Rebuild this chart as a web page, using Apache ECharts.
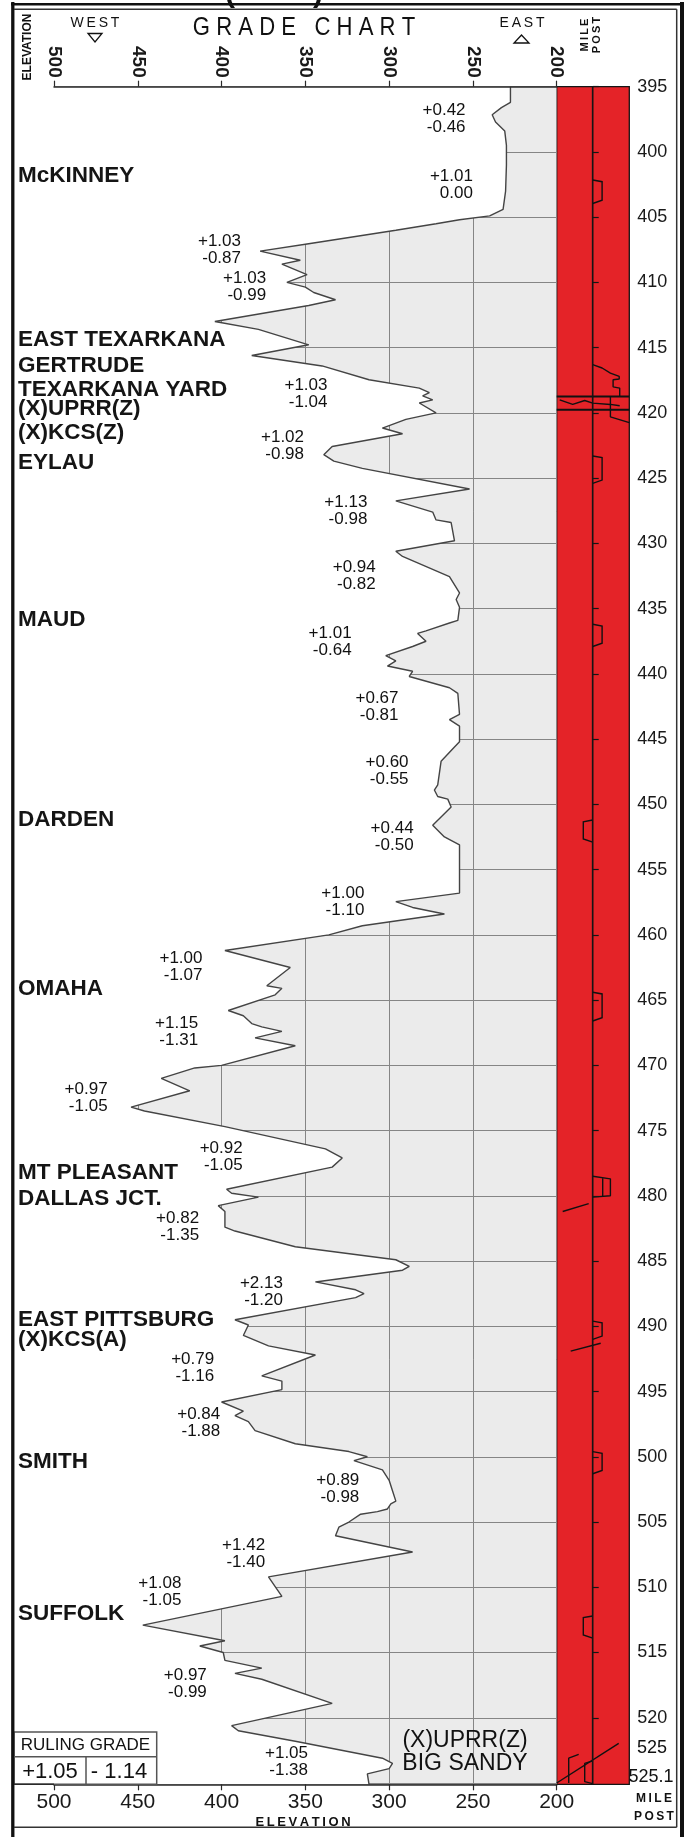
<!DOCTYPE html>
<html><head><meta charset="utf-8">
<script src="https://cdn.jsdelivr.net/npm/echarts@6/dist/echarts.min.js"></script>
<style>html,body{margin:0;padding:0;background:#fff}#c{width:691px;height:1837px}</style>
</head><body><div id="c"></div>
<script>
// ---------------- DATA ----------------
const profileMiles = [395.0,396.2,396.6,397.15,397.7,398.4,399.5,401.0,403.0,404.4,404.9,405.2,405.5,406.0,407.05,407.6,408.3,408.6,409.4,410.0,410.36,410.77,411.33,411.77,412.99,413.6,414.78,415.6,416.4,417.46,418.1,418.45,418.7,419.0,419.24,420.0,420.5,421.16,421.6,422.57,423.2,423.7,424.25,425.83,426.74,427.6,428.2,428.4,429.8,430.6,431.0,432.55,433.8,434.3,434.9,435.9,436.1,436.7,436.9,437.5,437.9,438.6,439.0,439.4,439.8,440.2,441.06,441.5,443.1,443.5,444.0,445.2,445.6,446.7,448.5,448.9,449.4,449.6,450.2,451.6,452.5,453.1,456.8,457.45,457.9,458.4,459.3,460.0,461.2,462.5,463.9,464.1,464.6,465.8,466.2,466.8,467.05,467.4,467.9,468.5,470.0,470.2,471.0,471.95,473.2,473.5,474.7,476.4,477.1,477.8,479.5,479.8,480.1,480.75,481.2,482.4,482.7,483.9,484.9,485.4,485.7,486.6,487.2,487.5,487.8,489.5,489.9,490.7,491.5,492.2,493.8,494.2,494.85,495.8,496.5,496.85,497.3,498.0,499.0,499.6,500.0,500.3,501.0,501.8,502.6,503.4,503.6,504.0,504.2,504.4,505.0,505.4,506.05,507.3,509.2,510.7,512.9,514.1,514.5,515.0,515.6,516.2,516.6,517.05,518.9,520.6,521.0,521.8,523.1,523.5,523.9,524.3,525.1];
const profileElev = [227.6,227.6,233,238.5,236.5,231,230,230,230.5,232,240,258,272,296,349,377,353,364,349,361,350,345,332,348,404,378,348,382,340,312,282,276,280,274,282,272,290,304,292,334,339,333,316,252,296,274,272,263,261,296,292,264,258,260,258,259,264,278,283,278,286,302,296,301,286,288,264,259,258,264,258,258,261,269,271,273,271,265,263,274,267,258,258,296,286,267,316,336,398,359,373,364,368,396,387,382,376,364,380,356,400,416,436,419,454,446,398,338,328,334,397,394,378,402,398,398,392,356,296,288,292,344,320,315,320,392,384,387,372,344,376,364,364,400,387,392,384,380,356,324,313,321,304,300,298,296,299,301,307,317,324,330,332,286,372,364,447,398,413,399,398,376,392,376,334,394,390,356,304,298,300,313,312];

const elevTicks = [500, 450, 400, 350, 300, 250, 200];
const mileTicks = [395,400,405,410,415,420,425,430,435,440,445,450,455,460,465,470,475,480,485,490,495,500,505,510,515,520];
const endMileLabels = ['525', '525.1'];

const stationNames = ['McKINNEY','EAST TEXARKANA','GERTRUDE','TEXARKANA YARD','(X)UPRR(Z)','(X)KCS(Z)','EYLAU','MAUD','DARDEN','OMAHA','MT PLEASANT','DALLAS JCT.','EAST PITTSBURG','(X)KCS(A)','SMITH','SUFFOLK'];
const stationMiles = [401.82,414.42,416.4,418.2,419.68,421.52,423.8,435.83,451.18,464.1,478.2,480.2,489.5,491.0,500.4,512.0];

const gradeUp   = ['+0.42','+1.01','+1.03','+1.03','+1.03','+1.02','+1.13','+0.94','+1.01','+0.67','+0.60','+0.44','+1.00','+1.00','+1.15','+0.97','+0.92','+0.82','+2.13','+0.79','+0.84','+0.89','+1.42','+1.08','+0.97','+1.05'];
const gradeDown = ['-0.46','0.00','-0.87','-0.99','-1.04','-0.98','-0.98','-0.82','-0.64','-0.81','-0.55','-0.50','-1.10','-1.07','-1.31','-1.05','-1.05','-1.35','-1.20','-1.16','-1.88','-0.98','-1.40','-1.05','-0.99','-1.38'];
const gradeMiles = [397.47,402.52,407.5,410.31,418.56,422.5,427.49,432.47,437.53,442.51,447.45,452.47,457.45,462.45,467.43,472.51,477.01,482.41,487.39,493.2,497.41,502.45,507.43,510.34,517.4,523.39];
const gradeElev  = [254.4,250.0,388.4,373.4,336.8,350.8,313.0,308.0,322.4,294.4,288.4,285.4,314.8,411.4,414.0,468.0,387.4,413.4,363.4,404.4,400.8,317.8,374.0,424.0,408.8,348.4];

const rulingGrade = ['+1.05', '- 1.14'];
const endStation = ['(X)UPRR(Z)', 'BIG SANDY'];

// curvature track: curve start/end mile posts and side (+1 right, -1 left)
const curveStart = [402.15, 423.3, 436.2, 451.2, 464.4, 489.6, 499.6, 512.2];
const curveEnd   = [403.95, 425.4, 437.9, 452.9, 466.6, 491.0, 501.3, 513.9];
const curveSide  = [1, 1, 1, -1, 1, 1, 1, -1];
// other track features as [offset, milepost] polylines
const trackCenter = [[0, 395], [0, 525.1]];
const trackStair = [[0,416.3],[9.4,416.56],[17.7,416.95],[17.7,417.1],[26.5,417.2],[26.5,417.4],[20.4,417.46],[20.4,418.0],[27,418.1],[27,418.74]];
const trackJct1 = [[-36,418.74],[36.6,418.74]];
const trackJct2 = [[-36,419.76],[36.6,419.76]];
const trackZig = [[-33,419.0],[-20,419.35],[-8,419.05],[0,419.25],[17.7,419.35],[27,419.45]];
const trackSpur1 = [[17.7,418.74],[17.7,420.3],[36.6,420.75]];
const trackDouble = [[0,478.5],[17.7,478.7],[17.7,480.0],[0,480.1]];
const trackDoubleIn = [[10,478.65],[10,480.05]];
const trackX1 = [[-30,481.2],[-4,480.6]];
const trackX2 = [[-22,491.9],[8,491.3]];
const trackEnd = [[-36,525.0],[26,521.97]];
const trackEndB1 = [[-14,522.8],[-24,523.1],[-24,525.0]];
const trackEndB2 = [[0,523.3],[-8,523.5],[-8,524.9],[0,525.05]];
const trackLines = [trackStair, trackJct1, trackJct2, trackZig, trackSpur1, trackDouble, trackDoubleIn, trackX1, trackX2, trackEnd, trackEndB1, trackEndB2];

// ---------------- CHART ----------------
const FONT = 'Liberation Sans, Arial, sans-serif';
const chart = echarts.init(document.getElementById('c'), null, {renderer: 'canvas'});

const G0 = {left: 54, top: 86.7, right: 134.3, bottom: 52.7};
const G1 = {left: 556.7, top: 86.7, width: 72.6, bottom: 52.7};

const profileData = profileMiles.map((m, i) => [profileElev[i], m]);

const series = [];
// white region west of the profile (covers grid)
series.push({
  type: 'custom', xAxisIndex: 0, yAxisIndex: 0, z: 2, silent: true, clip: false,
  data: [[0, 0]],
  renderItem: function (params, api) {
    const pts = [api.coord([520, profileMiles[0]])];
    profileData.forEach(p => pts.push(api.coord(p)));
    pts.push(api.coord([520, profileMiles[profileMiles.length - 1]]));
    return {type: 'polygon', shape: {points: pts}, style: {fill: '#ffffff'}};
  }
});
// profile line
series.push({
  type: 'line', xAxisIndex: 0, yAxisIndex: 0, z: 4, data: profileData,
  showSymbol: false, symbol: 'none', silent: true, animation: false,
  lineStyle: {color: '#444', width: 1.4}
});
// station names
series.push({
  type: 'custom', xAxisIndex: 0, yAxisIndex: 0, z: 5, silent: true, clip: false,
  data: stationMiles.map((m, i) => [500, m, i]),
  renderItem: function (params, api) {
    const i = api.value(2);
    const p = api.coord([500, api.value(1)]);
    return {type: 'text', x: 18, y: p[1], style: {text: stationNames[i], font: 'bold 22.5px ' + FONT, fill: '#151515', align: 'left', verticalAlign: 'middle'}};
  }
});
// grade annotations
series.push({
  type: 'custom', xAxisIndex: 0, yAxisIndex: 0, z: 5, silent: true, clip: false,
  data: gradeMiles.map((m, i) => [gradeElev[i], m, i]),
  renderItem: function (params, api) {
    const i = api.value(2);
    const p = api.coord([api.value(0), api.value(1)]);
    return {type: 'text', x: p[0], y: p[1], style: {text: gradeUp[i] + '\n' + gradeDown[i], font: '17px ' + FONT, lineHeight: 17, fill: '#111', align: 'right', verticalAlign: 'middle'}};
  }
});
// curvature bumps
series.push({
  type: 'custom', xAxisIndex: 3, yAxisIndex: 1, z: 5, silent: true, clip: false,
  data: curveStart.map((s, i) => [s, curveEnd[i], curveSide[i]]),
  renderItem: function (params, api) {
    const s = api.value(0), e = api.value(1), d = api.value(2);
    const w = 9.4 * d;
    const pts = [api.coord([0, s]), api.coord([w, s + 0.13]), api.coord([w, e - 0.25]), api.coord([0, e])];
    return {type: 'polyline', shape: {points: pts}, style: {stroke: '#111', lineWidth: 1.4, fill: null}};
  }
});
// center line & other track features
[trackCenter].concat(trackLines).forEach((arr, k) => {
  series.push({
    type: 'line', xAxisIndex: 3, yAxisIndex: 1, z: 5, data: arr, showSymbol: false, symbol: 'none',
    silent: true, animation: false,
    lineStyle: {color: '#111', width: (arr === trackJct1 || arr === trackJct2) ? 2 : 1.4}
  });
});

const axisFont = {fontFamily: FONT, color: '#1a1a1a'};

const option = {
  animation: false,
  backgroundColor: '#ffffff',
  grid: [
    Object.assign({show: true, backgroundColor: '#ebebeb', borderWidth: 0}, G0),
    Object.assign({show: true, backgroundColor: '#e42328', borderColor: '#151515', borderWidth: 1.3}, G1)
  ],
  xAxis: [
    {gridIndex: 0, type: 'value', position: 'top', min: 200, max: 500, interval: 50, inverse: true, z: 6,
     axisLine: {show: true, lineStyle: {color: '#2a2a2a', width: 1.5}},
     axisTick: {show: true, length: 6, lineStyle: {color: '#2a2a2a', width: 1.2}},
     axisLabel: Object.assign({rotate: 90, margin: 9, fontSize: 19, fontWeight: 'bold'}, axisFont),
     splitLine: {show: false}},
    {gridIndex: 0, type: 'value', position: 'bottom', min: 200, max: 500, interval: 50, inverse: true, z: 6,
     axisLine: {show: true, lineStyle: {color: '#2a2a2a', width: 1.5}},
     axisTick: {show: true, length: 6, lineStyle: {color: '#2a2a2a', width: 1.2}},
     axisLabel: Object.assign({margin: 7, fontSize: 21}, axisFont),
     splitLine: {show: false}},
    {gridIndex: 0, type: 'value', position: 'bottom', offset: 0, min: 200, max: 500, interval: 50, inverse: true, z: 0,
     axisLine: {show: false}, axisTick: {show: false}, axisLabel: {show: false},
     splitLine: {show: true, lineStyle: {color: '#858585', width: 1}}},
    {gridIndex: 1, type: 'value', min: -36, max: 36.6, show: false}
  ],
  yAxis: [
    {gridIndex: 0, type: 'value', min: 395, max: 525.1, interval: 5, inverse: true, z: 0,
     axisLine: {show: false}, axisTick: {show: false}, axisLabel: {show: false},
     splitLine: {show: true, lineStyle: {color: '#858585', width: 1}}},
    {gridIndex: 1, type: 'value', position: 'right', min: 395, max: 525.1, interval: 5, inverse: true, z: 6,
     axisLine: {show: true, lineStyle: {color: '#151515', width: 1.3}},
     axisTick: {show: true, length: 6, customValues: mileTicks, lineStyle: {color: '#151515', width: 1.2}},
     axisLabel: Object.assign({margin: 8, fontSize: 18, customValues: mileTicks,
       formatter: v => (v > 520 ? '' : String(v))}, axisFont),
     splitLine: {show: false}}
  ],
  series: series
};
chart.setOption(option);

// ---------------- DECORATION (frame, titles, table) ----------------
const T = (text, x, y, font, extra) => Object.assign({type: 'text', x: x, y: y, z: 20,
  style: {text: text, font: font, fill: '#111', align: 'center', verticalAlign: 'middle'}}, extra || {});
const L = (x1, y1, x2, y2, w, c) => ({type: 'line', z: 20, shape: {x1, y1, x2, y2}, style: {stroke: c || '#111', lineWidth: w}});
const sp = s => s.split('').join('\u2009');

const graphics = [
  // frame
  L(12.8, 2, 12.8, 1837, 3.3), L(11, 4.2, 684, 4.2, 2.6), L(682, 2, 682, 1837, 4),
  L(14, 9.3, 676.7, 9.3, 1.5, '#333'), L(676.7, 9.3, 676.7, 1827.3, 1.5, '#333'), L(14, 1827.3, 676.7, 1827.3, 1.5, '#333'),
  // bottom base line across table
  L(14, 1784.3, 54, 1784.3, 1.5, '#2a2a2a'),
  // cut-off title parentheses
  T('(', 230, -6, 'bold 30px ' + FONT), T(')', 318, -6, 'bold 30px ' + FONT),
  // headers
  T('ELEVATION', 28, 47, 'bold 12px ' + FONT, {rotation: Math.PI / 2}),
  T(sp('WEST'), 95, 23, '14px ' + FONT),
  {type: 'polygon', z: 20, shape: {points: [[88, 33.5], [102, 33.5], [95, 42]]}, style: {fill: '#fff', stroke: '#111', lineWidth: 1.3}},
  T('G R A D E   C H A R T', 304, 28, '26px ' + FONT, {scaleX: 0.85}),
  T(sp('EAST'), 522, 23, '14px ' + FONT),
  {type: 'polygon', z: 20, shape: {points: [[514, 43], [529, 43], [521.5, 35]]}, style: {fill: '#fff', stroke: '#111', lineWidth: 1.3}},
  T(sp('MILE'), 585, 35, 'bold 11px ' + FONT, {rotation: Math.PI / 2}),
  T(sp('POST'), 597, 35, 'bold 11px ' + FONT, {rotation: Math.PI / 2}),
  // end mile posts
  T(endMileLabels[0], 652, 1748, '18px ' + FONT),
  T(endMileLabels[1], 651, 1777, '18px ' + FONT),
  // bottom captions
  T(sp('ELEVATION'), 303, 1822, 'bold 13px ' + FONT),
  T(sp('MILE'), 654, 1799, 'bold 12px ' + FONT),
  T(sp('POST'), 654, 1816.5, 'bold 12px ' + FONT),
  // end station
  T(endStation[0], 465, 1741, '23px ' + FONT),
  T(endStation[1], 465, 1763.5, '23px ' + FONT),
  // ruling grade table
  {type: 'rect', z: 19, shape: {x: 14, y: 1732, width: 142.7, height: 52.3}, style: {fill: '#fff', stroke: '#555', lineWidth: 1.5}},
  L(14, 1756.7, 156.7, 1756.7, 1.5, '#555'), L(86, 1756.7, 86, 1784.3, 1.5, '#555'),
  T('RULING GRADE', 85.5, 1745, '17px ' + FONT),
  T(rulingGrade[0], 50, 1771.5, '22px ' + FONT),
  T(rulingGrade[1], 119, 1771.5, '22px ' + FONT)
];
chart.setOption({graphic: graphics});
</script>
</body></html>
